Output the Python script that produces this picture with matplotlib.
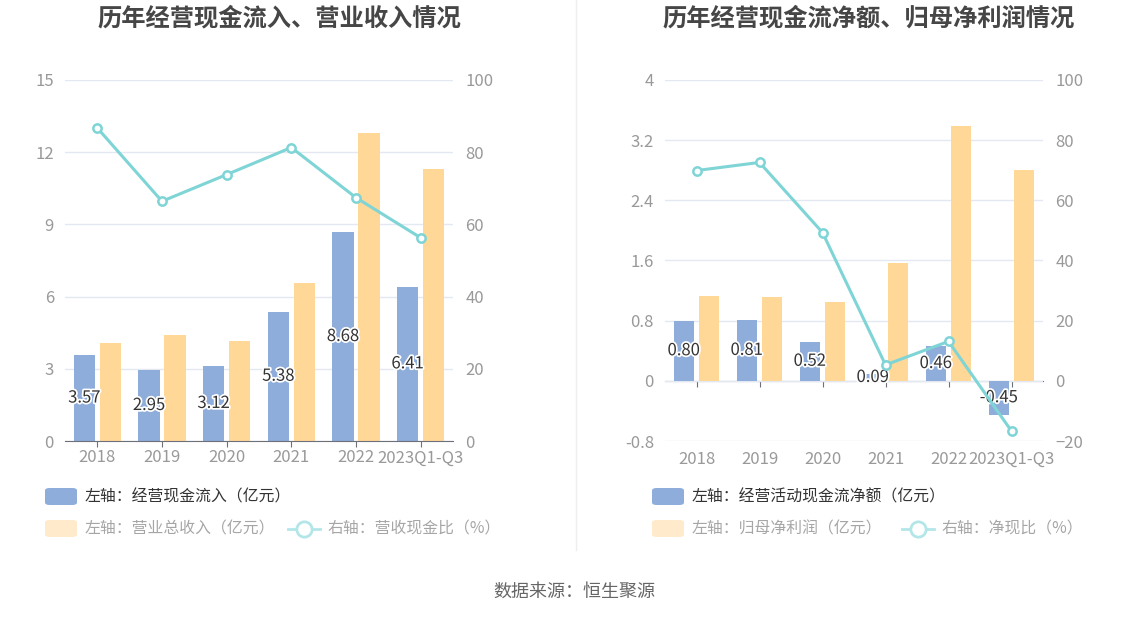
import matplotlib
matplotlib.use("Agg")
from matplotlib import pyplot as plt
from matplotlib.patches import FancyBboxPatch
from matplotlib.lines import Line2D
from matplotlib.ticker import FormatStrFormatter
import matplotlib.patheffects as pe
import numpy as np

plt.rcParams['font.family'] = ['Noto Sans CJK SC', 'DejaVu Sans']

W, H = 1148, 619

categories = ["2018", "2019", "2020", "2021", "2022", "2023Q1-Q3"]

# left chart
cash_in = [3.57, 2.95, 3.12, 5.38, 8.68, 6.41]
revenue = [4.06, 4.39, 4.17, 6.56, 12.80, 11.29]
cash_ratio = [86.7, 66.4, 73.8, 81.3, 67.4, 56.3]

# right chart
net_cash = [0.80, 0.81, 0.52, 0.09, 0.46, -0.45]
net_profit = [1.13, 1.11, 1.05, 1.57, 3.39, 2.80]
net_ratio = [69.9, 72.6, 49.3, 5.3, 13.1, -16.7]

BLUE = "#8EADDB"
ORANGE = "#FFD797"
CYAN = "#7FD4D6"
GRID = "#E3E8F2"
TICK = "#999999"
AXIS = "#6E7079"


def px(x, y):
    return x / W, 1 - y / H


def make_chart(left_px, right_px, left_vals, bar_vals, line_vals, ylim, yticks, y2lim, y2ticks, zero_axis):
    x0, y0 = px(left_px, 441)
    x1, y1 = px(right_px, 80)
    ax = fig.add_axes([x0, y0, x1 - x0, y1 - y0])
    x = np.arange(len(categories))
    bw = 0.33
    ax.bar(x - 0.2, left_vals, bw, color=BLUE, zorder=2)
    ax.bar(x + 0.2, bar_vals, bw, color=ORANGE, zorder=2)
    for xi, v in zip(x, left_vals):
        ax.text(xi - 0.2, v / 2, f"{v:.2f}", ha="center", va="center", fontsize=12,
                color="#333333", zorder=5,
                path_effects=[pe.withStroke(linewidth=2.5, foreground="white")])
    ax.set_xlim(-0.5, len(categories) - 0.5)
    ax.set_ylim(*ylim)
    ax.set_yticks(yticks)
    ax.yaxis.set_major_formatter(FormatStrFormatter('%g'))
    ax.grid(axis="y", color=GRID, linewidth=1, zorder=0)
    ax.set_axisbelow(True)
    for s in ax.spines.values():
        s.set_visible(False)
    ax.set_xticks(x)
    ax.set_xticklabels(categories)
    ax.tick_params(axis="y", length=0, labelsize=12, labelcolor=TICK, pad=8)
    if zero_axis:
        ax.tick_params(axis="x", length=0, labelsize=12, labelcolor=TICK, pad=7)
        frac = (0 - ylim[0]) / (ylim[1] - ylim[0])
        sec = ax.secondary_xaxis(frac)
        sec.set_xticks(x)
        sec.set_xticklabels([])
        sec.spines["bottom"].set_color(AXIS)
        sec.tick_params(axis="x", length=4, color=AXIS, direction="out")
    else:
        ax.spines["bottom"].set_visible(True)
        ax.spines["bottom"].set_color(AXIS)
        ax.tick_params(axis="x", length=4, color=AXIS, labelsize=12, labelcolor=TICK, pad=2)

    ax2 = ax.twinx()
    ax2.plot(x, line_vals, color=CYAN, linewidth=2.2, marker="o", markersize=6,
             markerfacecolor="white", markeredgecolor=CYAN, markeredgewidth=1.8, zorder=4)
    ax2.set_ylim(*y2lim)
    ax2.set_yticks(y2ticks)
    for s in ax2.spines.values():
        s.set_visible(False)
    ax2.tick_params(axis="y", length=0, labelsize=12, labelcolor=TICK, pad=9)
    return ax, ax2


def legend(x_patch, text1, text2, x_line, text3):
    for (yc, color) in [(497, BLUE), (529, "#FFEBCC")]:
        fx, fy = px(x_patch, yc + 8)
        fw = 32 / W
        fh = 17 / H
        fig.patches.append(FancyBboxPatch((fx, fy), fw, fh, boxstyle="round,pad=0,rounding_size=0.004",
                                          transform=fig.transFigure, facecolor=color, edgecolor="none"))
    tx, ty = px(x_patch + 40, 497)
    fig.text(tx, ty, text1, fontsize=11.4, color="#333333", va="center", ha="left")
    tx, ty = px(x_patch + 40, 529)
    fig.text(tx, ty, text2, fontsize=11.4, color="#A6A6A6", va="center", ha="left")
    lx0, ly = px(x_line, 529)
    lx1, _ = px(x_line + 32, 529)
    fig.lines.append(Line2D([lx0, lx1], [ly, ly], transform=fig.transFigure, color="#B3E6E8", linewidth=2))
    fig.lines.append(Line2D([(lx0 + lx1) / 2], [ly], transform=fig.transFigure, marker="o", markersize=11,
                            markerfacecolor="white", markeredgecolor="#B3E6E8", markeredgewidth=2, linestyle="none"))
    tx, ty = px(x_line + 39, 529)
    fig.text(tx, ty, text3, fontsize=11.4, color="#A6A6A6", va="center", ha="left")


fig = plt.figure(figsize=(W / 100, H / 100), dpi=100)
fig.patch.set_facecolor("white")

make_chart(65, 453, cash_in, revenue, cash_ratio, (0, 15), [0, 3, 6, 9, 12, 15],
           (0, 100), [0, 20, 40, 60, 80, 100], False)
make_chart(665, 1043, net_cash, net_profit, net_ratio, (-0.8, 4.0), [-0.8, 0, 0.8, 1.6, 2.4, 3.2, 4.0],
           (-20, 100), [-20, 0, 20, 40, 60, 80, 100], True)

tx, ty = px(279, 18)
fig.text(tx, ty, "历年经营现金流入、营业收入情况", fontsize=17.5, fontweight="bold", color="#464646",
         ha="center", va="center")
tx, ty = px(869, 18)
fig.text(tx, ty, "历年经营现金流净额、归母净利润情况", fontsize=17.5, fontweight="bold", color="#464646",
         ha="center", va="center")

legend(45, "左轴：经营现金流入（亿元）", "左轴：营业总收入（亿元）", 288, "右轴：营收现金比（%）")
legend(652, "左轴：经营活动现金流净额（亿元）", "左轴：归母净利润（亿元）", 902, "右轴：净现比（%）")

fig.lines.append(Line2D([576 / W, 576 / W], [1, 1 - 550 / H], transform=fig.transFigure,
                        color="#EEEEEE", linewidth=1))

tx, ty = px(574, 592)
fig.text(tx, ty, "数据来源：恒生聚源", fontsize=13, color="#666666", ha="center", va="center")

fig.savefig("out.png", dpi=100)
